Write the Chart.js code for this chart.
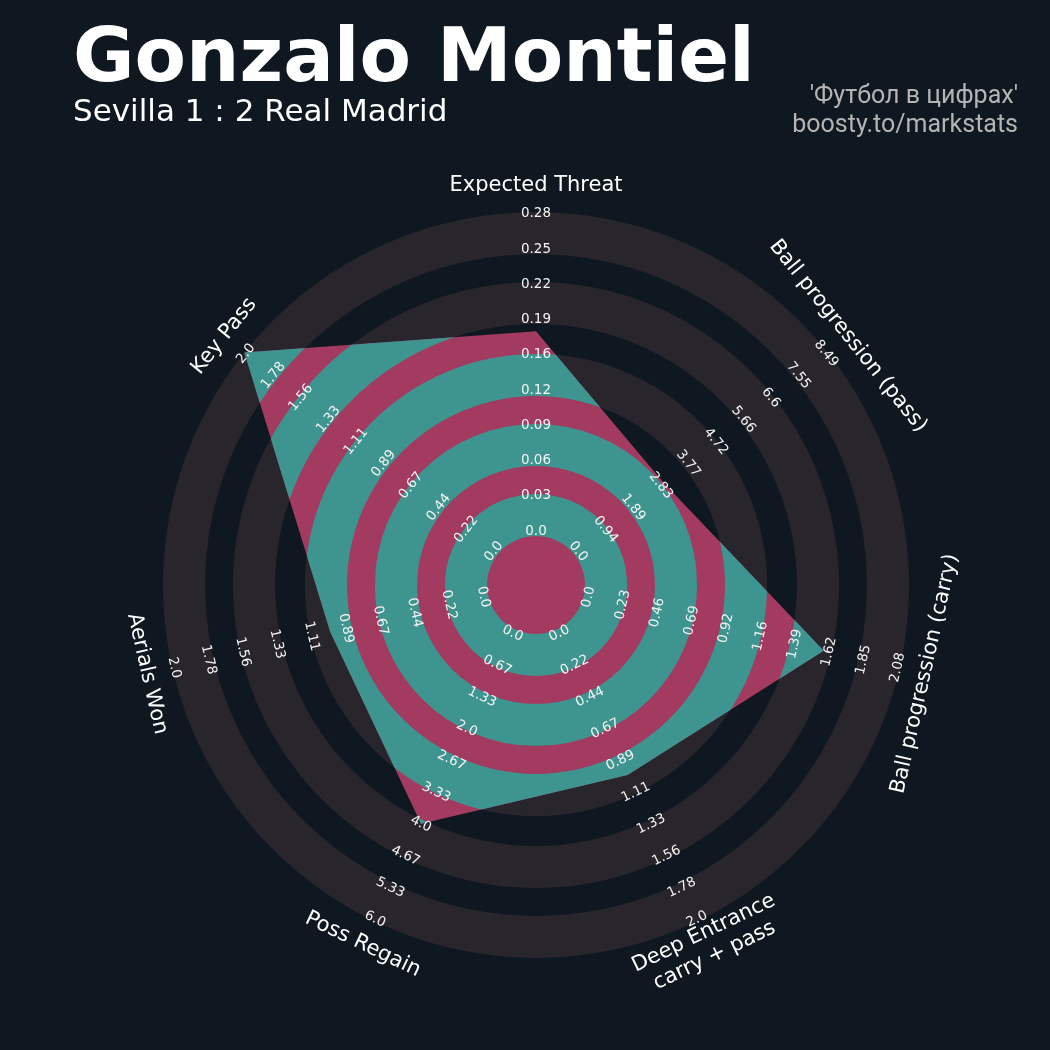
<!DOCTYPE html>
<html lang="en">
<head>
<meta charset="UTF-8">
<title>Gonzalo Montiel radar</title>
<script src="https://cdn.jsdelivr.net/npm/chart.js"></script>
<style>
  body { margin: 0; background: #0f1820; }
  #wrap { width: 1050px; height: 1050px; }
</style>
</head>
<body>
<div id="wrap"><canvas id="radar"></canvas></div>
<script>
// parameters (clockwise from the top) and their ranges
const params = ['Expected Threat', 'Ball progression (pass)', 'Ball progression (carry)',
                ['Deep Entrance', 'carry + pass'], 'Poss Regain', 'Aerials Won', 'Key Pass'];
const lows   = [0, 0, 0, 0, 0, 0, 0];
const highs  = [0.28, 8.49, 2.08, 2.0, 6.0, 2.0, 2.0];
const values = [0.177, 3.0, 1.58, 1.0, 4.0, 1.0, 2.0];

const BG = '#0f1820', RING = '#28252c', TEAL = '#3e958f', PINK = '#a33a5f';
const NUM_TICKS = 10;
const INNER = 49 / 324;            // centre circle, in scale units
// the wide rings (teal inside the shape, grey outside), in scale units
const bands = [[0, 0.130], [0.216, 0.346], [0.432, 0.562], [0.654, 0.784], [0.870, 1.0]];
// range labels sit a touch inside the ends of each axis
const LABEL_FROM = 0.015, LABEL_TO = 0.994;

function fmt(v) {
  const r = Math.round(v * 100) / 100;
  return Number.isInteger(r) ? r.toFixed(1) : String(r);
}
const tickLabels = lows.map((lo, i) =>
  Array.from({length: NUM_TICKS}, (_, k) => fmt(lo + (highs[i] - lo) * k / (NUM_TICKS - 1))));

const norm = values.map((v, i) => (v - lows[i]) / (highs[i] - lows[i]));

function readableAngle(a) {
  // a: radians clockwise from the top
  if (a > Math.PI / 2 && a < Math.PI * 1.5) a -= Math.PI;
  return a;
}

const radarPlugin = {
  id: 'radarRings',
  beforeDraw(chart) {
    const ctx = chart.ctx;
    ctx.save();
    ctx.fillStyle = BG;
    ctx.fillRect(0, 0, chart.width, chart.height);
    ctx.restore();
  },
  beforeDatasetsDraw(chart) {
    const s = chart.scales.r, ctx = chart.ctx;
    const cx = s.xCenter, cy = s.yCenter;
    const pts = chart.getDatasetMeta(0).data;
    const annulus = (t0, t1) => {
      ctx.beginPath();
      ctx.arc(cx, cy, s.getDistanceFromCenterForValue(t1), 0, Math.PI * 2);
      ctx.arc(cx, cy, s.getDistanceFromCenterForValue(t0), 0, Math.PI * 2, true);
      ctx.fill();
    };
    ctx.save();
    ctx.fillStyle = RING;
    bands.forEach(b => annulus(b[0], b[1]));
    ctx.beginPath();
    pts.forEach((p, i) => i ? ctx.lineTo(p.x, p.y) : ctx.moveTo(p.x, p.y));
    ctx.closePath();
    ctx.fillStyle = PINK;
    ctx.fill();
    ctx.clip();
    ctx.fillStyle = TEAL;
    bands.forEach(b => annulus(b[0], b[1]));
    ctx.restore();
  },
  afterDraw(chart) {
    const s = chart.scales.r, ctx = chart.ctx;
    ctx.save();
    ctx.textAlign = 'center';
    ctx.textBaseline = 'middle';
    // range labels
    ctx.fillStyle = '#f4f4f4';
    ctx.font = '13.5px "DejaVu Sans"';
    tickLabels.forEach((labs, i) => {
      const rot = readableAngle(s.getIndexAngle(i));
      labs.forEach((txt, k) => {
        const t = LABEL_FROM + (LABEL_TO - LABEL_FROM) * k / (NUM_TICKS - 1);
        const p = s.getPointPositionForValue(i, t);
        ctx.save();
        ctx.translate(p.x, p.y);
        ctx.rotate(rot);
        ctx.fillText(txt, 0, 0);
        ctx.restore();
      });
    });
    // parameter names
    ctx.fillStyle = '#ffffff';
    ctx.font = '21px "DejaVu Sans"';
    params.forEach((name, i) => {
      const rot = readableAngle(s.getIndexAngle(i));
      const p = s.getPointPosition(i, s.drawingArea * 399 / 373);
      const lines = Array.isArray(name) ? name : [name];
      ctx.save();
      ctx.translate(p.x, p.y);
      ctx.rotate(rot);
      lines.forEach((ln, j) => ctx.fillText(ln, 0, (j - (lines.length - 1) / 2) * 25));
      ctx.restore();
    });
    // titles
    ctx.textAlign = 'left';
    ctx.textBaseline = 'alphabetic';
    ctx.fillStyle = '#ffffff';
    ctx.font = 'bold 75px "DejaVu Sans"';
    ctx.fillText('Gonzalo Montiel', 73, 81);
    ctx.font = '31px "DejaVu Sans"';
    ctx.fillText('Sevilla 1 : 2 Real Madrid', 73, 121);
    ctx.textAlign = 'right';
    ctx.fillStyle = '#b4b4b4';
    ctx.font = '25px Roboto';
    ctx.fillText('\'Футбол в цифрах\'', 1018, 103);
    ctx.fillText('boosty.to/markstats', 1018, 132);
    ctx.restore();
  }
};

new Chart(document.getElementById('radar'), {
  type: 'radar',
  data: {
    labels: params,
    datasets: [{
      data: norm,
      backgroundColor: 'rgba(0,0,0,0)',
      borderWidth: 0,
      pointRadius: 0,
      pointHoverRadius: 0
    }]
  },
  options: {
    responsive: true,
    maintainAspectRatio: false,
    animation: false,
    events: [],
    layout: { padding: { left: 163, right: 141, top: 212, bottom: 92 } },
    plugins: { legend: { display: false }, tooltip: { enabled: false } },
    scales: {
      r: {
        min: -INNER,
        max: 1,
        ticks: { display: false },
        grid: { display: false },
        angleLines: { display: false },
        pointLabels: { display: false }
      }
    }
  },
  plugins: [radarPlugin]
});
</script>
</body>
</html>
